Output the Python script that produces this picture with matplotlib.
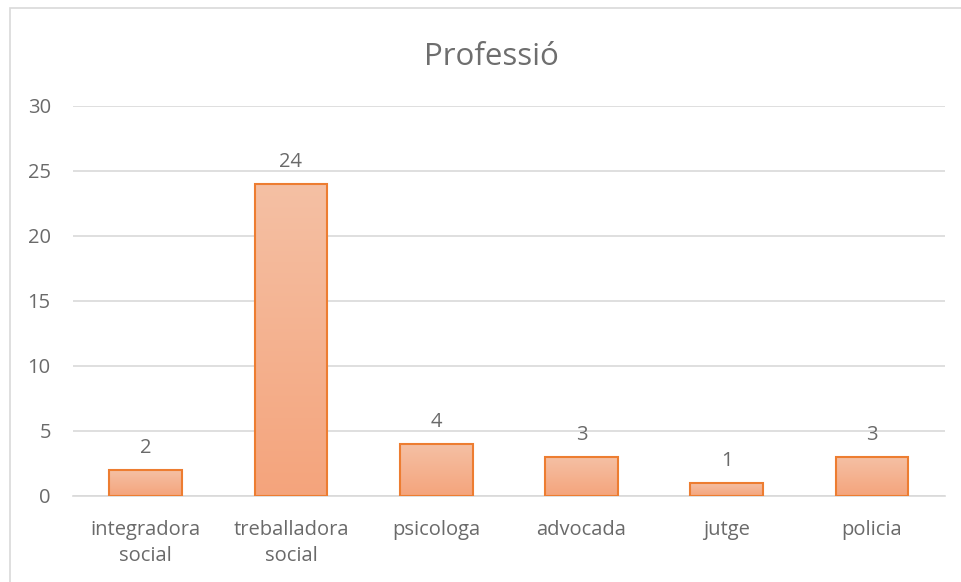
import numpy as np
import matplotlib.pyplot as plt
from matplotlib.colors import LinearSegmentedColormap
from matplotlib.patches import Rectangle

# data
categories = ["integradora\nsocial", "treballadora\nsocial", "psicologa", "advocada", "jutge", "policia"]
counts = [2, 24, 4, 3, 1, 3]
yticks = [0, 5, 10, 15, 20, 25, 30]

plt.rcParams['font.family'] = ['Open Sans', 'DejaVu Sans']

fig = plt.figure(figsize=(9.62, 5.82), dpi=100)
ax = fig.add_axes([0.0759, 0.1478, 0.9061, 0.6701])

x = np.arange(len(categories))
bars = ax.bar(x, counts, width=0.5, color='none', edgecolor='#ED7D31', linewidth=1.5, zorder=3)

# vertical gradient, light at top and darker at bottom, per bar
cmap = LinearSegmentedColormap.from_list('excel_orange', ['#F4A47C', '#F5C0A4'])
grad = np.linspace(0, 1, 256).reshape(-1, 1)
for b in bars:
    x0, y0 = b.get_x(), b.get_y()
    w, h = b.get_width(), b.get_height()
    im = ax.imshow(grad, cmap=cmap, aspect='auto', origin='lower',
                   extent=[x0, x0 + w, y0, y0 + h], zorder=2)
    im.set_clip_path(b)

for xi, v in zip(x, counts):
    ax.annotate(str(v), (xi, v), xytext=(0, 12.5), textcoords='offset points',
                ha='center', va='baseline', fontsize=14.5, color='#6A6A6A')

ax.set_xlim(-0.5, len(categories) - 0.5)
ax.set_ylim(0, 30)
ax.set_yticks(yticks)
ax.set_xticks(x)
ax.set_xticklabels(categories, fontsize=14.5, color='#6A6A6A', linespacing=1.45)
ax.tick_params(axis='y', labelsize=14.5, colors='#6A6A6A', length=0, pad=16)
ax.tick_params(axis='x', length=0, pad=17)
ax.grid(axis='y', color='#D9D9D9', linewidth=1.2, zorder=0)
for s in ['top', 'right', 'left']:
    ax.spines[s].set_visible(False)
ax.spines['bottom'].set_color('#D9D9D9')
ax.spines['bottom'].set_linewidth(1.2)

fig.text(491 / 962, 1 - 65 / 582, "Professió", ha='center', va='baseline', fontsize=22.5, color='#6E6E6E')

# chart area border (only left and top edges fall inside the image)
fig.patches.append(Rectangle((9.5 / 962, -0.05), 1.1, 1 - 7.5 / 582 + 0.05, transform=fig.transFigure,
                             fill=False, edgecolor='#D9D9D9', linewidth=1.2))

fig.savefig('out.png', dpi=100)
